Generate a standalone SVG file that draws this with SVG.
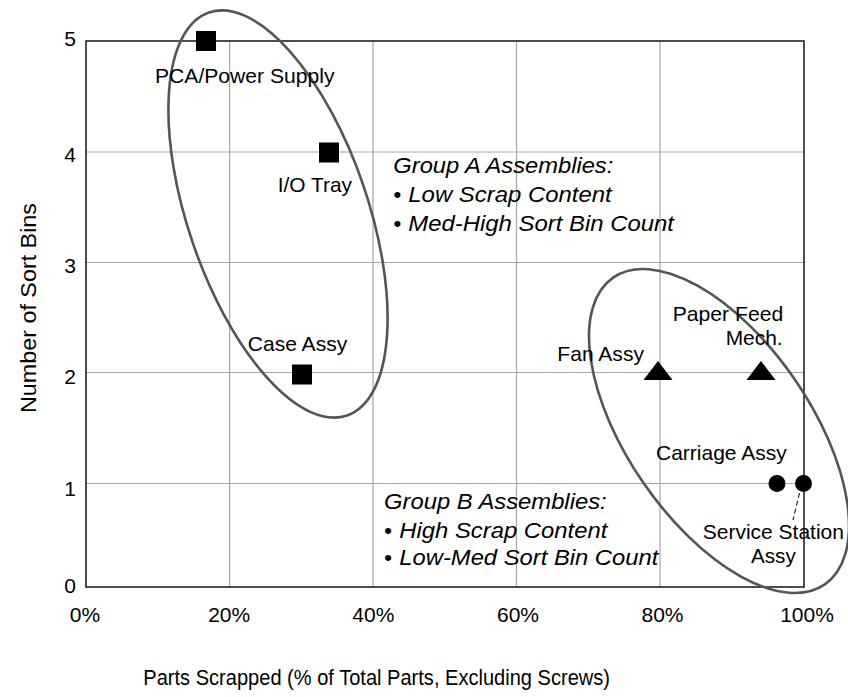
<svg xmlns="http://www.w3.org/2000/svg" width="848" height="697" viewBox="0 0 848 697">
<style>
text{font-family:"Liberation Sans",Arial,Helvetica,sans-serif;fill:#000}
.lbl{font-size:21px}
.tick{font-size:21px}
.grp{font-size:22.5px;font-style:italic}
.title{font-size:21.5px}
.grid{stroke:#a6a6a6;stroke-width:1.2;fill:none}
.frame{stroke:#222;stroke-width:1.6;fill:none}
.ell{stroke:#555;stroke-width:2.6;fill:none}
.sq{fill:#000}
</style>
<rect width="848" height="697" fill="#fff"/>
<g id="grid">
<line class="grid" x1="229.6" y1="41" x2="229.6" y2="587"/>
<line class="grid" x1="373" y1="41" x2="373" y2="587"/>
<line class="grid" x1="516.5" y1="41" x2="516.5" y2="587"/>
<line class="grid" x1="660" y1="41" x2="660" y2="587"/>
<line class="grid" x1="86" y1="152" x2="804" y2="152"/>
<line class="grid" x1="86" y1="262.5" x2="804" y2="262.5"/>
<line class="grid" x1="86" y1="372.5" x2="804" y2="372.5"/>
<line class="grid" x1="86" y1="483.5" x2="804" y2="483.5"/>
<rect class="frame" x="86" y="41" width="718" height="546"/>
</g>
<g id="ticks">
<text class="tick" x="76" y="46" text-anchor="end">5</text>
<text class="tick" x="76" y="162" text-anchor="end">4</text>
<text class="tick" x="76" y="273" text-anchor="end">3</text>
<text class="tick" x="76" y="384" text-anchor="end">2</text>
<text class="tick" x="76" y="496" text-anchor="end">1</text>
<text class="tick" x="76" y="593" text-anchor="end">0</text>
<text class="tick" x="85" y="622" text-anchor="middle">0%</text>
<text class="tick" x="229.2" y="622" text-anchor="middle">20%</text>
<text class="tick" x="373.3" y="622" text-anchor="middle">40%</text>
<text class="tick" x="518" y="622" text-anchor="middle">60%</text>
<text class="tick" x="662.5" y="622" text-anchor="middle">80%</text>
<text class="tick" x="807" y="622" text-anchor="middle">100%</text>
</g>
<g id="axis-titles">
<text class="title" x="143.3" y="685" textLength="466.7" lengthAdjust="spacingAndGlyphs">Parts Scrapped (% of Total Parts, Excluding Screws)</text>
<text class="title" transform="translate(36,413) rotate(-90)" x="0" y="0" textLength="210" lengthAdjust="spacingAndGlyphs">Number of Sort Bins</text>
</g>
<g id="connectors">
<line x1="799.5" y1="493" x2="793" y2="520" stroke="#000" stroke-width="1" stroke-dasharray="5 3"/>
</g>
<g id="groupA">
<ellipse class="ell" cx="278" cy="214" rx="213" ry="90" transform="rotate(71.1 278 214)"/>
<text class="grp" x="393.3" y="173" textLength="220" lengthAdjust="spacingAndGlyphs">Group A Assemblies:</text>
<text class="grp" x="393.3" y="202">•<tspan x="408.3" textLength="203.4" lengthAdjust="spacingAndGlyphs">Low Scrap Content</tspan></text>
<text class="grp" x="393.3" y="231">•<tspan x="408.3" textLength="265.7" lengthAdjust="spacingAndGlyphs">Med-High Sort Bin Count</tspan></text>
</g>
<g id="groupB">
<ellipse class="ell" cx="719" cy="431" rx="186.4" ry="91.7" transform="rotate(55.4 719 431)"/>
<text class="grp" x="384" y="509" textLength="222.7" lengthAdjust="spacingAndGlyphs">Group B Assemblies:</text>
<text class="grp" x="384" y="537.5">•<tspan x="399.3" textLength="208" lengthAdjust="spacingAndGlyphs">High Scrap Content</tspan></text>
<text class="grp" x="384" y="565">•<tspan x="399.3" textLength="259" lengthAdjust="spacingAndGlyphs">Low-Med Sort Bin Count</tspan></text>
</g>
<g id="pca-power-supply">
<rect class="sq" x="196" y="31" width="20" height="20"/>
<text class="lbl" x="155" y="83.3" textLength="179.5" lengthAdjust="spacingAndGlyphs">PCA/Power Supply</text>
</g>
<g id="io-tray">
<rect class="sq" x="319" y="142.5" width="20" height="20"/>
<text class="lbl" x="277.7" y="191.7" textLength="74.3" lengthAdjust="spacingAndGlyphs">I/O Tray</text>
</g>
<g id="case-assy">
<rect class="sq" x="292" y="364.5" width="20" height="20"/>
<text class="lbl" x="247.7" y="350.7" textLength="99.6" lengthAdjust="spacingAndGlyphs">Case Assy</text>
</g>
<g id="fan-assy">
<polygon class="sq" points="658,361 672.5,380 643.5,380"/>
<text class="lbl" x="557.3" y="360.7" textLength="86.7" lengthAdjust="spacingAndGlyphs">Fan Assy</text>
</g>
<g id="paper-feed-mech">
<polygon class="sq" points="761,361 775.5,380 746.5,380"/>
<text class="lbl" x="672.7" y="321" textLength="110.6" lengthAdjust="spacingAndGlyphs">Paper Feed</text>
<text class="lbl" x="725.7" y="345" textLength="57" lengthAdjust="spacingAndGlyphs">Mech.</text>
</g>
<g id="carriage-assy">
<circle class="sq" cx="777" cy="483.5" r="8.5"/>
<text class="lbl" x="656" y="459.5" textLength="130.7" lengthAdjust="spacingAndGlyphs">Carriage Assy</text>
</g>
<g id="service-station-assy">
<circle class="sq" cx="803.5" cy="483.5" r="8.5"/>
<text class="lbl" x="702.7" y="539.3" textLength="141.3" lengthAdjust="spacingAndGlyphs">Service Station</text>
<text class="lbl" x="751" y="563.3" textLength="44.7" lengthAdjust="spacingAndGlyphs">Assy</text>
</g>
</svg>
